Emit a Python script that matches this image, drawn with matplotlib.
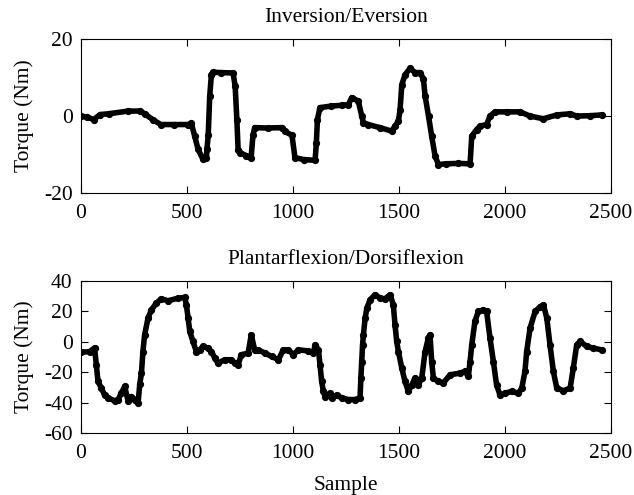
import numpy as np
import matplotlib.pyplot as plt

# =========================
# DADOS
# =========================
# Inversion/Eversion
inv_sample = [0, 30, 60, 90, 130, 222, 278, 300, 340, 377, 440, 505, 520, 536, 552,
              575, 591, 594, 600, 607, 615, 623, 660, 717, 727, 735, 741, 750, 780,
              802, 811, 819, 880, 948, 962, 995, 1009, 1050, 1104, 1110, 1115, 1127,
              1180, 1230, 1261, 1277, 1308, 1324, 1332, 1355, 1410, 1465, 1481, 1497,
              1505, 1513, 1529, 1552, 1576, 1600, 1615, 1623, 1639, 1654, 1670, 1686,
              1720, 1780, 1835, 1843, 1866, 1882, 1913, 1929, 1953, 2010, 2071, 2118,
              2181, 2244, 2307, 2338, 2400, 2456]
inv_torque = [0.0, -0.3, -0.9, 0.4, 0.6, 1.3, 1.3, 0.6, -1.0, -2.2, -2.2, -2.2, -1.8,
              -5.2, -8.6, -11.2, -11.0, -8.5, -5.0, 5.2, 10.8, 11.4, 11.3, 11.2, 7.8,
              -0.9, -8.7, -9.5, -10.3, -11.0, -5.0, -3.0, -3.1, -3.0, -4.0, -5.0,
              -10.8, -11.3, -11.5, -7.0, -0.9, 2.2, 2.6, 2.8, 3.0, 4.8, 3.9, 0.0, -1.7,
              -2.2, -3.0, -3.9, -2.6, -1.3, 1.7, 8.2, 10.8, 12.4, 11.3, 11.3, 9.6, 5.2,
              0.0, -5.2, -10.4, -12.6, -12.4, -12.3, -12.4, -5.2, -3.5, -2.6, -2.2, 0.0,
              1.1, 1.1, 1.1, 0.0, -0.7, 0.3, 0.6, 0.0, 0.1, 0.3]

# Plantarflexion/Dorsiflexion
pla_sample = [0, 40, 64, 72, 80, 96, 111, 127, 159, 175, 190, 206, 222, 237, 253,
              269, 277, 285, 292, 300, 316, 332, 355, 379, 410, 457, 489, 497, 505,
              513, 528, 544, 560, 576, 599, 615, 631, 646, 678, 709, 725, 741, 756,
              788, 803, 819, 836, 868, 899, 931, 954, 978, 1002, 1025, 1072, 1096,
              1104, 1120, 1127, 1135, 1143, 1151, 1175, 1182, 1206, 1230, 1261, 1292,
              1316, 1320, 1324, 1328, 1332, 1340, 1348, 1363, 1387, 1411, 1434, 1458,
              1473, 1481, 1489, 1497, 1513, 1528, 1544, 1560, 1575, 1591, 1607, 1623,
              1638, 1646, 1654, 1662, 1686, 1709, 1741, 1788, 1811, 1827, 1835, 1843,
              1858, 1874, 1898, 1913, 1929, 1945, 1960, 1976, 2000, 2031, 2063, 2079,
              2094, 2102, 2118, 2142, 2165, 2181, 2197, 2212, 2228, 2244, 2275, 2307,
              2322, 2338, 2354, 2385, 2417, 2456]
pla_torque = [-6.8, -6.5, -4.0, -15.0, -26.0, -30.5, -35.0, -37.0, -38.8, -38.0,
              -33.8, -29.4, -39.0, -36.0, -38.0, -40.4, -28.0, -20.6, -6.4, 4.6,
              15.6, 21.0, 25.4, 28.3, 27.0, 28.7, 29.2, 24.3, 15.6, 6.8, 0.2, -6.4,
              -5.3, -3.0, -4.2, -6.4, -10.7, -14.0, -11.8, -11.8, -14.0, -15.0, -8.5,
              -7.5, 4.6, -5.3, -5.3, -7.5, -9.6, -11.8, -5.3, -5.3, -8.5, -5.3, -6.0,
              -7.5, -2.0, -5.3, -15.0, -26.0, -32.7, -36.0, -33.8, -37.0, -35.0, -37.0,
              -38.0, -38.0, -37.0, -24.0, -13.0, -2.0, 4.6, 15.6, 22.0, 27.6, 31.0,
              28.7, 28.3, 31.0, 24.3, 11.2, 0.2, -6.4, -17.3, -26.0, -32.7, -28.3,
              -24.0, -28.3, -24.0, -6.4, 2.4, 4.6, -13.0, -24.0, -26.0, -27.0, -21.7,
              -20.6, -19.5, -22.8, -13.0, -2.0, 13.4, 20.0, 21.0, 20.0, 2.4, -13.0,
              -28.3, -35.0, -33.8, -32.7, -33.8, -30.5, -19.5, -6.4, 9.0, 20.0, 23.0,
              24.3, 15.6, -2.0, -19.5, -30.5, -32.2, -30.5, -17.3, -2.0, 0.2, -3.0,
              -4.2, -5.3]

titulos = ['Inversion/Eversion', 'Plantarflexion/Dorsiflexion']
xticks = [0, 500, 1000, 1500, 2000, 2500]

# =========================
# PLOTS
# =========================
plt.rcParams['font.family'] = ['Liberation Serif', 'DejaVu Serif']
plt.rcParams['font.size'] = 15.5
plt.rcParams['axes.unicode_minus'] = False

fig = plt.figure(figsize=(6.34, 4.95), dpi=100)
ax1 = fig.add_axes([0.1278, 0.610, 0.836, 0.311])
ax2 = fig.add_axes([0.1278, 0.1253, 0.836, 0.307])

series = [(ax1, inv_sample, inv_torque, (-20, 20), [-20, 0, 20]),
          (ax2, pla_sample, pla_torque, (-60, 40), [-60, -40, -20, 0, 20, 40])]

for i, (ax, s, tq, ylim, yticks) in enumerate(series):
    ax.plot(s, tq, color='black', linewidth=4.0, solid_capstyle='round',
            solid_joinstyle='round', marker='o', markersize=4.2)
    ax.set_xlim(0, 2500)
    ax.set_ylim(*ylim)
    ax.set_xticks(xticks)
    ax.set_yticks(yticks)
    ax.set_ylabel('Torque (Nm)', labelpad=7)
    ax.set_title(titulos[i], fontsize=15.5, pad=12)
    ax.tick_params(direction='in', top=True, right=True, length=5, width=0.8)
    ax.tick_params(axis='x', pad=8)
    ax.tick_params(axis='y', pad=6)
    for sp in ax.spines.values():
        sp.set_linewidth(0.8)

ax2.set_xlabel('Sample', labelpad=9)
fig.align_ylabels([ax1, ax2])

plt.savefig('out.png', dpi=100)
